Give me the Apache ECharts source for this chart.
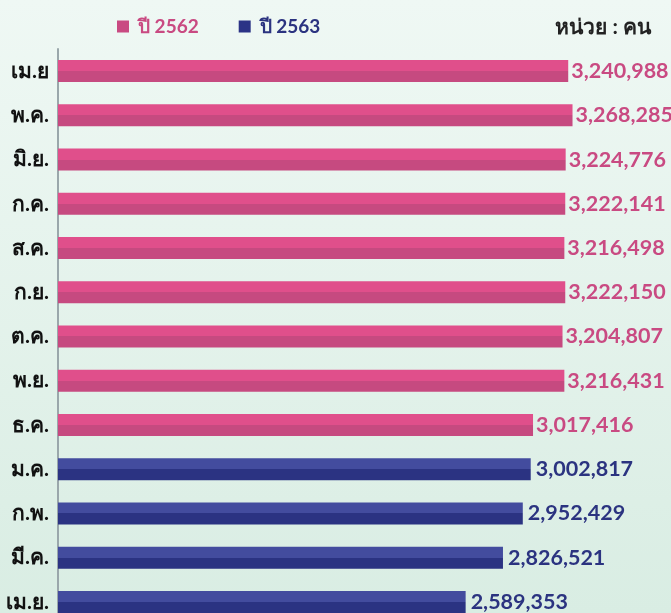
<!DOCTYPE html>
<html>
<head>
<meta charset="utf-8">
<script src="https://cdn.jsdelivr.net/npm/echarts@6/dist/echarts.min.js"></script>
<style>
  html, body { margin: 0; padding: 0; }
  #chart { width: 671px; height: 613px; }
</style>
</head>
<body>
<div id="chart"></div>
<script>
// เดือน (บนลงล่าง)
var months = ['เม.ย', 'พ.ค.', 'มิ.ย.', 'ก.ค.', 'ส.ค.', 'ก.ย.', 'ต.ค.', 'พ.ย.', 'ธ.ค.', 'ม.ค.', 'ก.พ.', 'มี.ค.', 'เม.ย.'];
var y2562 = [3240988, 3268285, 3224776, 3222141, 3216498, 3222150, 3204807, 3216431, 3017416, null, null, null, null];
var y2563 = [null, null, null, null, null, null, null, null, null, 3002817, 2952429, 2826521, 2589353];

var pinkText = '#c94a82';
var navyText = '#2b3380';

function twoTone(light, dark) {
    return new echarts.graphic.LinearGradient(0, 0, 0, 1, [
        { offset: 0, color: light },
        { offset: 0.5, color: light },
        { offset: 0.5, color: dark },
        { offset: 1, color: dark }
    ]);
}

var chartDom = document.getElementById('chart');
var myChart = echarts.init(chartDom);

var option = {
    backgroundColor: new echarts.graphic.LinearGradient(0, 0, 0, 1, [
        { offset: 0, color: '#eff8f4' },
        { offset: 1, color: '#d9ede3' }
    ]),
    textStyle: { fontFamily: 'Lato, "Noto Sans", sans-serif' },
    legend: {
        top: 12,
        left: 112,
        icon: 'rect',
        itemWidth: 12,
        itemHeight: 12,
        itemGap: 40,
        textStyle: { fontSize: 19, fontWeight: 'bold', padding: [0, 0, 0, 4] },
        data: [
            { name: 'ปี 2562', itemStyle: { color: '#c94a82' }, textStyle: { color: pinkText } },
            { name: 'ปี 2563', itemStyle: { color: '#2b3386' }, textStyle: { color: navyText } }
        ]
    },
    title: {
        text: 'หน่วย : คน',
        right: 15,
        top: 12,
        textStyle: { fontSize: 21, fontWeight: 'bold', color: '#222' }
    },
    grid: { left: 58, right: 62, top: 49, height: 575, containLabel: false, outerBoundsMode: 'none' },
    xAxis: {
        type: 'value',
        min: 0,
        max: 3500000,
        show: false
    },
    yAxis: {
        type: 'category',
        inverse: true,
        data: months,
        axisLine: { show: true, lineStyle: { color: '#9aa7ab', width: 2 } },
        axisTick: { show: false },
        axisLabel: { color: '#111', fontSize: 21, fontWeight: 'bold', margin: 9 }
    },
    series: [
        {
            name: 'ปี 2562',
            type: 'bar',
            data: y2562,
            barWidth: 22,
            barGap: '-100%',
            itemStyle: { color: twoTone('#e04f8b', '#c64a80') },
            label: {
                show: true,
                position: 'right',
                distance: 3,
                color: pinkText,
                fontSize: 21.5,
                fontWeight: 'bold',
                formatter: function (p) { return p.value.toLocaleString('en-US'); }
            }
        },
        {
            name: 'ปี 2563',
            type: 'bar',
            data: y2563,
            barWidth: 22,
            itemStyle: { color: twoTone('#434c9e', '#2b3382') },
            label: {
                show: true,
                position: 'right',
                distance: 5,
                color: navyText,
                fontSize: 21.5,
                fontWeight: 'bold',
                formatter: function (p) { return p.value.toLocaleString('en-US'); }
            }
        }
    ]
};

option && myChart.setOption(option);
</script>
</body>
</html>
